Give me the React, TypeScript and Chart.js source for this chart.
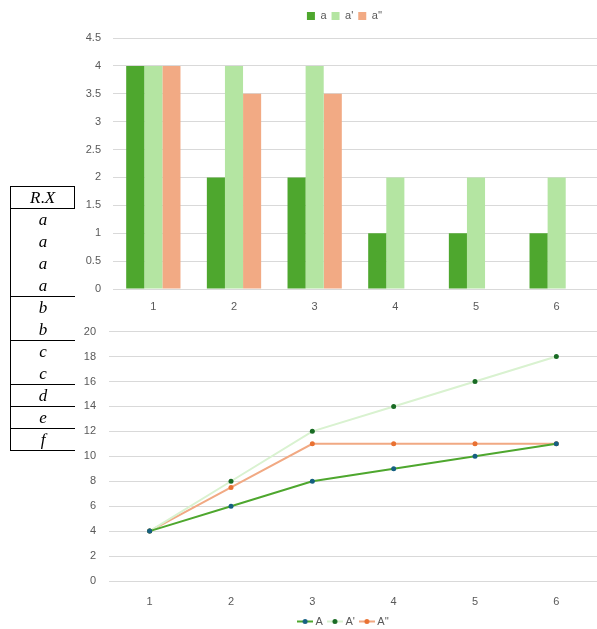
import React, { useEffect, useRef } from "react";
import { Chart, registerables } from "chart.js";

Chart.register(...registerables);

// ---- data ----
const categories = ["1", "2", "3", "4", "5", "6"];
const barLabels = ["a", "a'", "a''"];
const barA = [4, 2, 2, 1, 1, 1];
const barA1 = [4, 4, 4, 2, 2, 2];
const barA2 = [4, 3.5, 3.5, null, null, null];
const lineLabels = ["A", "A'", "A''"];
const lineA = [4, 6, 8, 9, 10, 11];
const lineA1 = [4, 8, 12, 14, 16, 18];
const lineA2 = [4, 7.5, 11, 11, 11, 11];
const tableHeader = ["R", ".", "X"];
const tableGroups = [["a", "a", "a", "a"], ["b", "b"], ["c", "c"], ["d"], ["e"], ["f"]];

const FONT = "'Liberation Sans', Arial, sans-serif";
const TICK = "#595959";
const GRID = "#D9D9D9";

const legendShift = {
  id: "legendShift",
  afterLayout(chart: any, _args: any, opts: any) {
    const l = chart.legend;
    if (!l) return;
    const dx = opts.dx || 0;
    const dy = opts.dy || 0;
    l.left += dx;
    l.right += dx;
    l.top += dy;
    l.bottom += dy;
  },
};

function makeIcon(lineColor: string, pointColor: string) {
  const c = document.createElement("canvas");
  c.width = 16;
  c.height = 7;
  const ctx = c.getContext("2d")!;
  ctx.strokeStyle = lineColor;
  ctx.lineWidth = 2;
  ctx.beginPath();
  ctx.moveTo(0, 3.5);
  ctx.lineTo(16, 3.5);
  ctx.stroke();
  ctx.fillStyle = pointColor;
  ctx.beginPath();
  ctx.arc(8, 3.5, 2.5, 0, Math.PI * 2);
  ctx.fill();
  return c;
}

const fmt = (v: any) => String(parseFloat(Number(v).toFixed(2)));

function BarChart() {
  const ref = useRef<HTMLCanvasElement>(null);
  useEffect(() => {
    const chart = new Chart(ref.current!, {
      type: "bar",
      data: {
        labels: categories,
        datasets: [
          { label: barLabels[0], data: barA, backgroundColor: "#4EA72E" },
          { label: barLabels[1], data: barA1, backgroundColor: "#B4E5A2" },
          { label: barLabels[2], data: barA2 as any, backgroundColor: "#F2AA84" },
        ],
      },
      options: {
        animation: false,
        responsive: true,
        maintainAspectRatio: false,
        events: [],
        layout: { padding: { top: 12, left: 0, right: 0, bottom: 0 } },
        datasets: { bar: { categoryPercentage: 0.673, barPercentage: 1 } },
        plugins: {
          legend: {
            position: "top",
            labels: {
              boxWidth: 8,
              boxHeight: 8,
              padding: 5,
              color: TICK,
              font: { family: FONT, size: 11 },
            },
          },
          tooltip: { enabled: false },
          legendShift: { dx: 46, dy: -6.5 },
        } as any,
        scales: {
          x: {
            grid: { display: false, drawTicks: false },
            border: { display: false },
            ticks: { color: TICK, font: { family: FONT, size: 11 }, padding: 11 },
            afterFit: (s: any) => {
              s.height = 23;
            },
          },
          y: {
            min: 0,
            max: 4.5,
            ticks: { stepSize: 0.5, color: TICK, font: { family: FONT, size: 11 }, padding: 12, callback: fmt },
            grid: { color: GRID, drawTicks: false },
            border: { display: false },
            afterFit: (s: any) => {
              s.width = 113;
            },
          },
        },
      },
      plugins: [legendShift],
    });
    return () => chart.destroy();
  }, []);
  return <canvas ref={ref} />;
}

function LineChart() {
  const ref = useRef<HTMLCanvasElement>(null);
  useEffect(() => {
    const lineColors = ["#4EA72E", "#D9F2D0", "#F1A983"];
    const pointColors = ["#156082", "#196B24", "#E97132"];
    const icons = lineColors.map((c, i) => makeIcon(c, pointColors[i]));
    const series = [lineA, lineA1, lineA2];
    const chart = new Chart(ref.current!, {
      type: "line",
      data: {
        labels: categories,
        datasets: series.map((d, i) => ({
          label: lineLabels[i],
          data: d,
          borderColor: lineColors[i],
          backgroundColor: pointColors[i],
          pointBackgroundColor: pointColors[i],
          pointBorderColor: pointColors[i],
          pointRadius: 2.5,
          pointBorderWidth: 0,
          borderWidth: 2,
          tension: 0,
        })),
      },
      options: {
        animation: false,
        responsive: true,
        maintainAspectRatio: false,
        events: [],
        layout: { autoPadding: false, padding: { top: 19, left: 0, right: 0, bottom: 0 } },
        plugins: {
          legend: {
            position: "bottom",
            labels: {
              usePointStyle: true,
              pointStyleWidth: 10,
              padding: 7,
              color: TICK,
              font: { family: FONT, size: 11 },
              generateLabels: (ch: any) => {
                const items = (Chart.defaults.plugins.legend.labels as any).generateLabels(ch);
                items.forEach((it: any, i: number) => {
                  it.pointStyle = icons[i];
                });
                return items;
              },
            },
          },
          tooltip: { enabled: false },
          legendShift: { dx: 46, dy: 0 },
        } as any,
        scales: {
          x: {
            offset: true,
            grid: { display: false, drawTicks: false },
            border: { display: false },
            ticks: { color: TICK, font: { family: FONT, size: 11 }, padding: 14 },
            afterFit: (s: any) => {
              s.height = 28;
            },
          },
          y: {
            min: 0,
            max: 20,
            ticks: { stepSize: 2, color: TICK, font: { family: FONT, size: 11 }, padding: 13 },
            grid: { color: GRID, drawTicks: false },
            border: { display: false },
            afterFit: (s: any) => {
              s.width = 109;
            },
          },
        },
      },
      plugins: [legendShift],
    });
    return () => chart.destroy();
  }, []);
  return <canvas ref={ref} />;
}

function Table() {
  const rowStyle: React.CSSProperties = {
    height: 22,
    lineHeight: "22px",
    textAlign: "center",
  };
  return (
    <div
      style={{
        position: "absolute",
        left: 10,
        top: 186,
        width: 65,
        fontFamily: "'Liberation Serif', 'DejaVu Serif', serif",
        fontStyle: "italic",
        fontSize: 17,
        color: "#000",
      }}
    >
      <div
        style={{
          ...rowStyle,
          height: 21,
          lineHeight: "21px",
          borderTop: "1px solid #000",
          borderLeft: "1px solid #000",
          borderRight: "1px solid #000",
          borderBottom: "1px solid #000",
        }}
      >
        {tableHeader[0]}
        <span style={{ fontStyle: "normal" }}>{tableHeader[1]}</span>
        {tableHeader[2]}
      </div>
      {tableGroups.map((g, gi) => (
        <div
          key={gi}
          style={{ borderLeft: "1px solid #000", borderBottom: "1px solid #000", height: g.length * 22 - 1 }}
        >
          {g.map((t, ti) => (
            <div key={ti} style={{ ...rowStyle, height: ti === g.length - 1 ? 21 : 22, lineHeight: "22px" }}>
              {t}
            </div>
          ))}
        </div>
      ))}
    </div>
  );
}

export default function App() {
  return (
    <div
      style={{
        position: "fixed",
        left: 0,
        top: 0,
        width: 597,
        height: 629,
        overflow: "hidden",
        background: "#fff",
      }}
    >
      <div style={{ position: "absolute", left: 0, top: 0, width: 597, height: 312 }}>
        <BarChart />
      </div>
      <div style={{ position: "absolute", left: 0, top: 312, width: 597, height: 325 }}>
        <LineChart />
      </div>
      <Table />
    </div>
  );
}
